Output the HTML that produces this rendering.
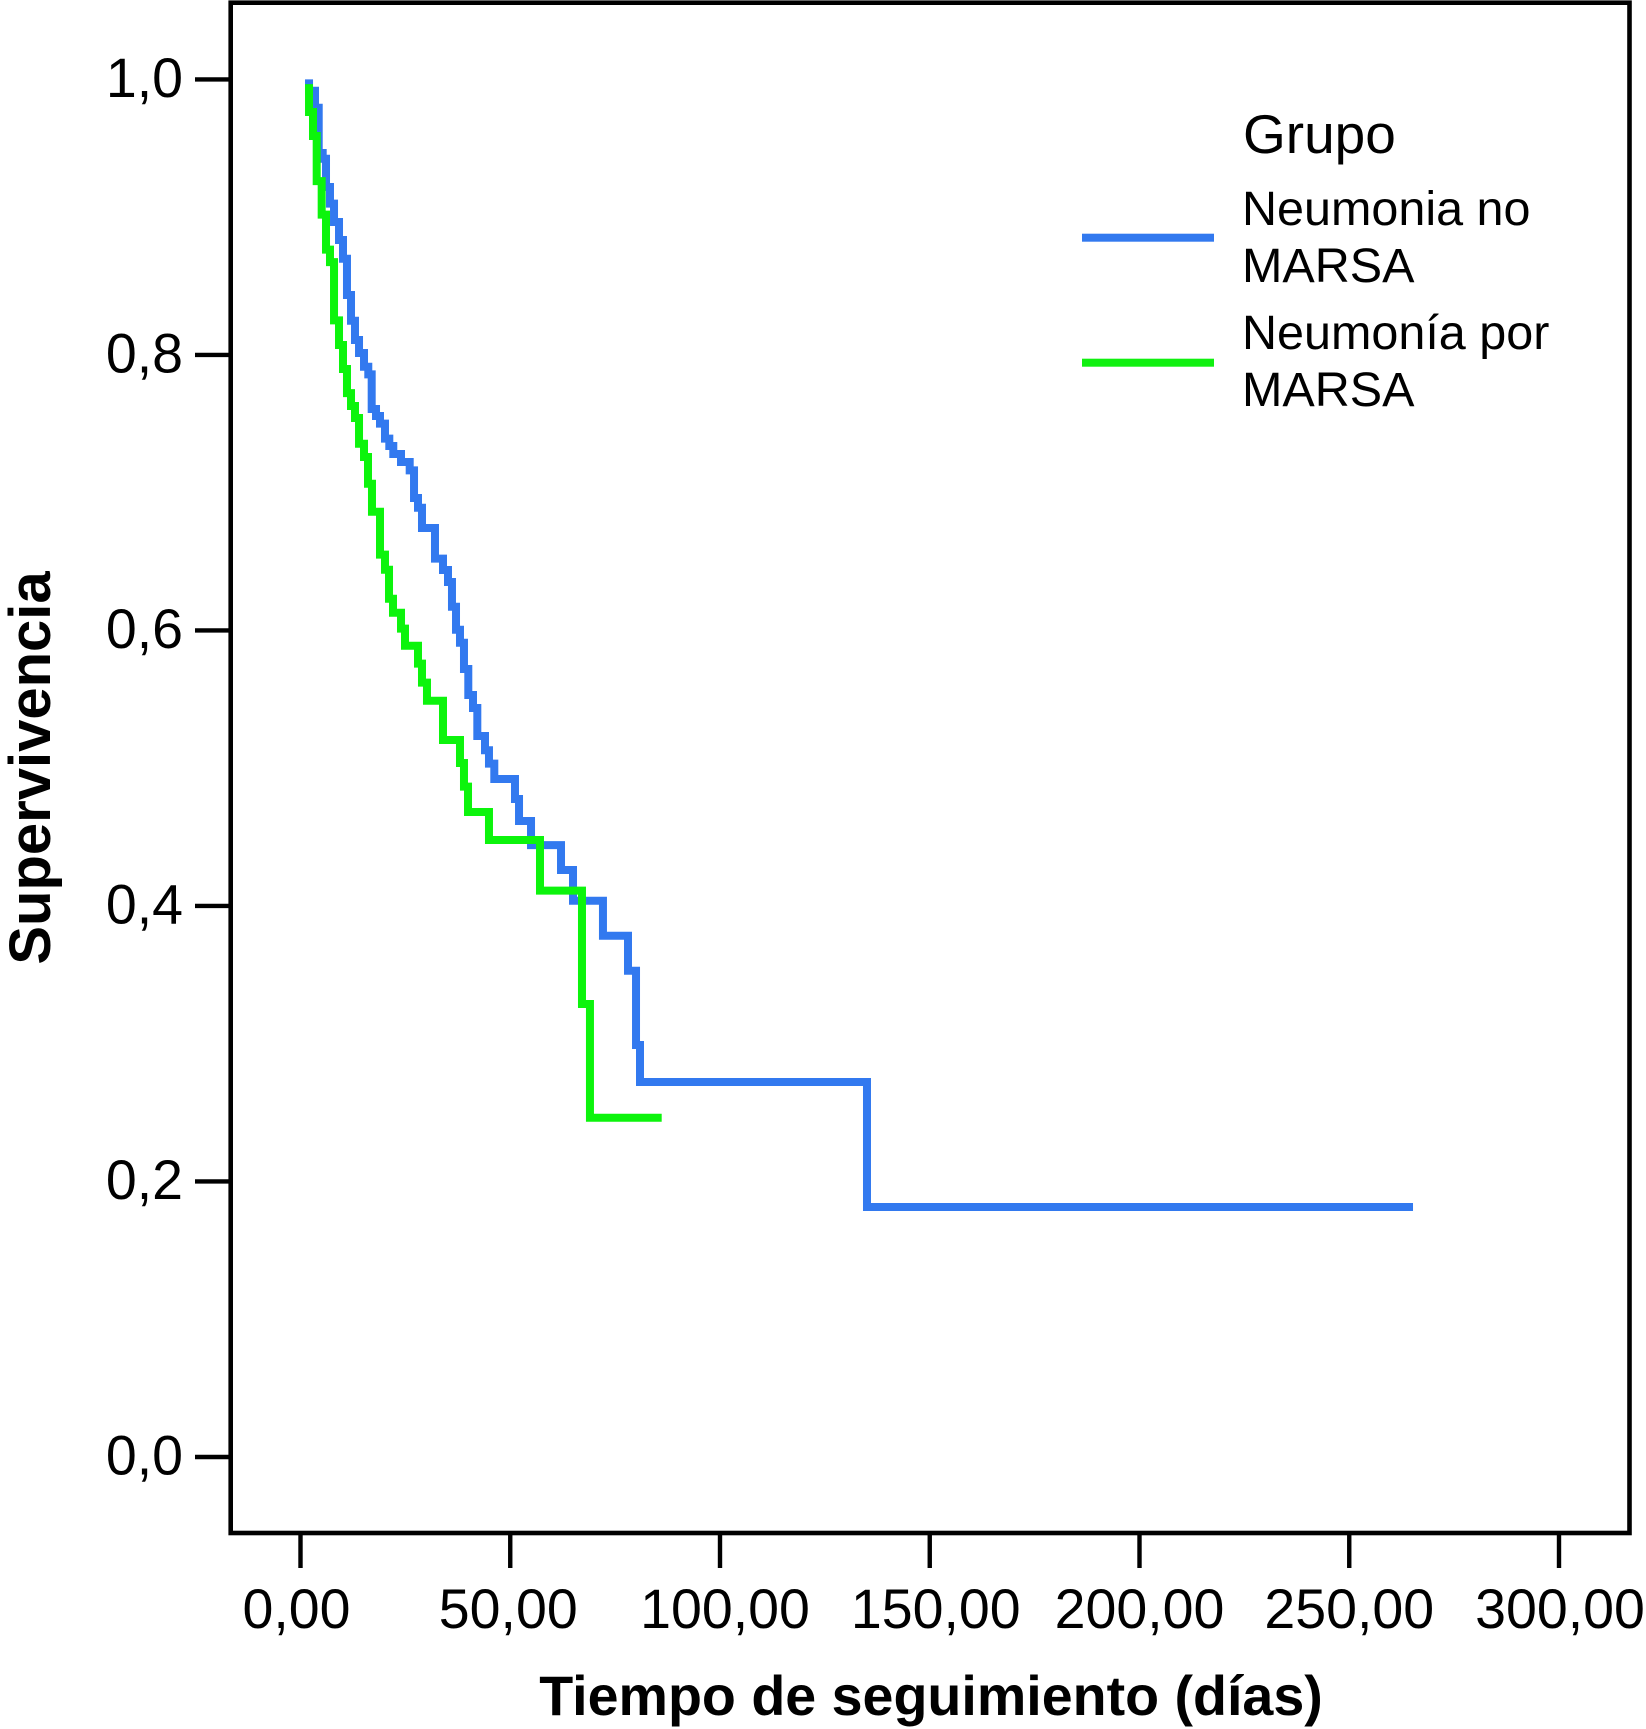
<!DOCTYPE html>
<html lang="es">
<head>
<meta charset="utf-8">
<title>Supervivencia por grupo</title>
<style>
  html, body { margin: 0; padding: 0; background: #fff; }
  body { width: 1646px; height: 1729px; overflow: hidden; }
  svg { display: block; }
  text { font-family: "Liberation Sans", Arial, sans-serif; fill: #000; }
</style>
</head>
<body>
<svg id="chart" xmlns="http://www.w3.org/2000/svg" width="1646" height="1729" viewBox="0 0 1646 1729">
  <rect x="0" y="0" width="1646" height="1729" fill="#fff"/>
  <g id="marks"></g>
  <rect x="230.7" y="2.7" width="1398.8" height="1530.3" fill="none" stroke="#000" stroke-width="4.6"/>
  <g id="axes"></g>
  <text x="931" y="1715" text-anchor="middle" font-size="55.6" font-weight="700">Tiempo de seguimiento (días)</text>
  <text transform="translate(50 768) rotate(-90)" text-anchor="middle" font-size="58" font-weight="700">Supervivencia</text>
  <g>
    <text x="1243" y="153" font-size="55">Grupo</text>
    <g>
      <rect x="1082" y="233.7" width="132" height="8" fill="#3279ef"/>
      <text font-size="48.5"><tspan x="1242" y="225">Neumonia no</tspan><tspan x="1242" y="282">MARSA</tspan></text>
    </g>
    <g>
      <rect x="1082" y="358.7" width="132" height="8" fill="#10f010"/>
      <text font-size="48.5"><tspan x="1242" y="349">Neumonía por</tspan><tspan x="1242" y="406">MARSA</tspan></text>
    </g>
  </g>
</svg>
<script>
// Chart data
const xTickValues = [0, 50, 100, 150, 200, 250, 300];
const xTickLabels = ["0,00", "50,00", "100,00", "150,00", "200,00", "250,00", "300,00"];
const yTickValues = [0, 0.2, 0.4, 0.6, 0.8, 1.0];
const yTickLabels = ["0,0", "0,2", "0,4", "0,6", "0,8", "1,0"];

// Each day is where the curve steps; survival is the level held up to that day.
const noMarsaDays = [2.03, 3.46, 4.34, 5.29, 6.08, 7.03, 7.99, 9.18, 10.13, 11.08, 12.04, 12.99, 13.95, 15.14, 16.16, 16.97, 18.0, 18.95, 20.14, 21.17, 22.12, 23.96, 26.03, 27.06, 28.01, 28.96, 32.06, 33.97, 35.16, 36.11, 37.07, 38.02, 38.97, 40.0, 41.12, 42.15, 43.98, 44.93, 46.2, 51.13, 52.09, 54.95, 62.1, 64.96, 72.1, 78.07, 79.98, 80.93, 135.04, 265.2];
const noMarsaSurvival = [1.0, 0.9918, 0.9794, 0.9466, 0.9424, 0.9219, 0.9098, 0.8965, 0.8834, 0.8698, 0.8435, 0.8248, 0.8108, 0.8014, 0.7914, 0.7859, 0.7607, 0.7557, 0.7501, 0.7392, 0.7339, 0.7281, 0.7223, 0.7162, 0.6961, 0.6891, 0.6744, 0.6521, 0.6439, 0.6352, 0.6172, 0.6005, 0.5911, 0.572, 0.5531, 0.5437, 0.5234, 0.513, 0.5033, 0.4922, 0.4776, 0.4617, 0.4442, 0.4261, 0.4038, 0.3784, 0.353, 0.2991, 0.2722, 0.1815];
const marsaDays = [2.03, 2.98, 3.86, 5.05, 6.08, 7.03, 7.99, 9.18, 10.13, 11.08, 12.04, 12.99, 13.95, 15.14, 16.09, 17.04, 18.95, 20.14, 21.1, 22.05, 23.96, 24.91, 28.01, 28.96, 30.15, 33.97, 38.02, 38.97, 39.93, 44.93, 57.09, 67.1, 69.0, 86.1];
const marsaSurvival = [0.9966, 0.9763, 0.9589, 0.9262, 0.9018, 0.8764, 0.8674, 0.8251, 0.8072, 0.7898, 0.7723, 0.7629, 0.7542, 0.7355, 0.7259, 0.7065, 0.6862, 0.655, 0.6441, 0.623, 0.6128, 0.6013, 0.5889, 0.5759, 0.5621, 0.549, 0.5205, 0.5038, 0.4866, 0.4682, 0.4479, 0.4111, 0.3288, 0.2463];

// Axis functions
function xScale(days) { return 300.5 + 4.195 * days; }
function yScale(survival) { return 1457 - 1377.6 * survival; }

// Small per-label horizontal layout adjustment, as in the source figure
function xLabelShift(index) {
  return [-4, -2, 5, 6, 0, 0, 1][index];
}

const NS = "http://www.w3.org/2000/svg";
const marksLayer = document.getElementById("marks");
const axesLayer = document.getElementById("axes");

function stepPath(days, survival) {
  let d = "M" + xScale(days[0]).toFixed(2) + " " + yScale(survival[0]).toFixed(2);
  for (let i = 1; i < days.length; i++) {
    d += "V" + yScale(survival[i]).toFixed(2);
    d += "H" + xScale(days[i]).toFixed(2);
  }
  return d;
}

function drawTickLine(x1, y1, x2, y2) {
  const line = document.createElementNS(NS, "line");
  line.setAttribute("x1", x1);
  line.setAttribute("y1", y1);
  line.setAttribute("x2", x2);
  line.setAttribute("y2", y2);
  line.setAttribute("stroke", "#000");
  line.setAttribute("stroke-width", "4.4");
  return line;
}

function drawTickText(x, y, anchor, content) {
  const text = document.createElementNS(NS, "text");
  text.setAttribute("x", x);
  text.setAttribute("y", y);
  text.setAttribute("text-anchor", anchor);
  text.setAttribute("font-size", "55.5");
  text.textContent = content;
  return text;
}

xTickValues.forEach(function (value, i) {
  const px = xScale(value);
  const tick = drawTickLine(px, 1533, px, 1568);
  
  
  axesLayer.appendChild(tick);
  const label = drawTickText(px + xLabelShift(i), 1628, "middle", xTickLabels[i]);
  
  
  axesLayer.appendChild(label);
});

yTickValues.forEach(function (value, i) {
  const py = yScale(value);
  const tick = drawTickLine(195, py, 231, py);
  
  
  axesLayer.appendChild(tick);
  const label = drawTickText(183, py + 17.5, "end", yTickLabels[i]);
  
  
  axesLayer.appendChild(label);
});

function drawCurve(days, survival, color) {
  const path = document.createElementNS(NS, "path");
  path.setAttribute("d", stepPath(days, survival));
  path.setAttribute("fill", "none");
  path.setAttribute("stroke", color);
  path.setAttribute("stroke-width", "8");
  path.setAttribute("stroke-linejoin", "miter");
  path.setAttribute("stroke-linecap", "butt");
  return path;
}

const noMarsaCurve = drawCurve(noMarsaDays, noMarsaSurvival, "#3279ef");


marksLayer.appendChild(noMarsaCurve);

const marsaCurve = drawCurve(marsaDays, marsaSurvival, "#0cf40c");


marksLayer.appendChild(marsaCurve);
</script>
</body>
</html>
